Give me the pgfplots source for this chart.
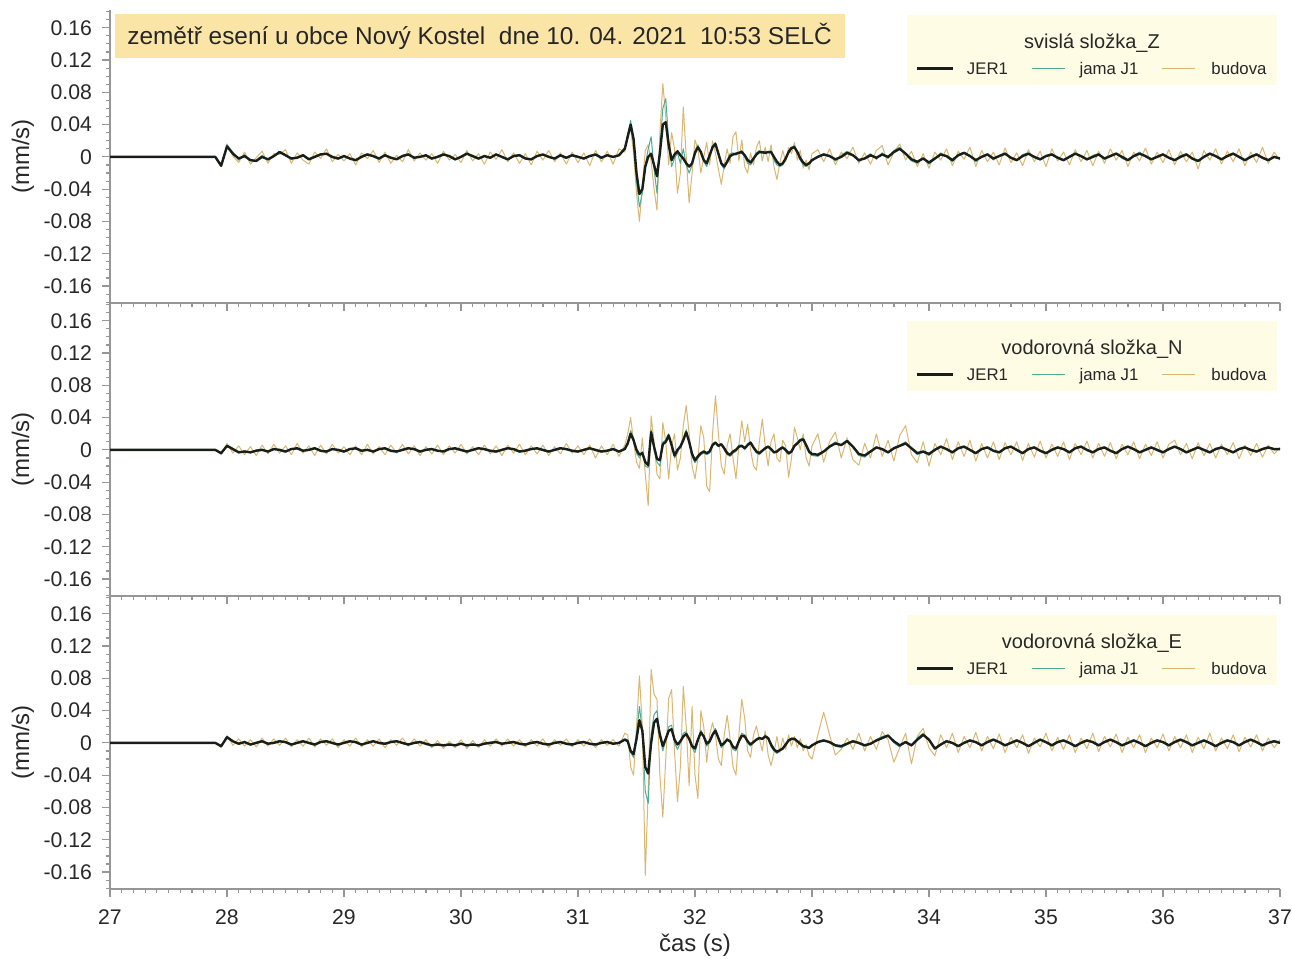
\documentclass[border=0pt]{standalone}
\usepackage{pgfplots}
\usepackage{pgfplotstable}
\pgfplotsset{compat=1.18}
\usepackage{fontspec}
\setmainfont{Liberation Sans}
\definecolor{budcol}{RGB}{218,182,115}
\definecolor{jamcol}{RGB}{80,170,150}
\definecolor{jercol}{RGB}{25,30,25}
\definecolor{axcol}{RGB}{150,150,150}
\definecolor{tickcol}{RGB}{40,40,40}
\definecolor{titlebg}{RGB}{251,229,166}
\definecolor{legbg}{RGB}{254,252,228}

\pgfplotstableread{
t j m b
27.00 0 0 0
27.90 0 0 0
27.95 -0.011 -0.012 -0.010
28.00 0.013 0.015 0.016
28.05 0.004 0.006 0.001
28.10 -0.002 -0.004 -0.007
28.15 0.001 0.003 0.006
28.20 -0.004 -0.005 -0.009
28.25 -0.005 -0.004 -0.001
28.30 0.000 0.002 0.007
28.35 -0.003 -0.004 -0.008
28.40 0.001 0.000 0.004
28.45 0.006 0.007 0.003
28.50 0.002 0.003 0.009
28.55 -0.002 -0.003 -0.008
28.60 -0.001 0.000 0.005
28.65 0.002 0.003 -0.004
28.70 -0.003 -0.002 -0.009
28.75 0.000 0.001 0.006
28.80 0.003 0.004 -0.002
28.85 0.004 0.003 0.010
28.90 0.000 -0.001 -0.006
28.95 -0.002 -0.003 0.003
29.00 0.001 0.002 -0.005
29.05 -0.002 -0.003 0.004
29.10 -0.004 -0.005 -0.010
29.15 0.000 0.001 0.005
29.20 0.003 0.004 -0.002
29.25 0.001 0.000 0.008
29.30 -0.002 -0.003 -0.007
29.35 0.002 0.003 0.006
29.40 -0.001 -0.002 -0.008
29.45 -0.003 -0.002 0.002
29.50 0.001 0.002 -0.006
29.55 0.003 0.004 0.009
29.60 -0.001 -0.002 -0.005
29.65 0.000 0.001 0.005
29.70 0.002 0.001 -0.004
29.75 -0.002 -0.003 0.004
29.80 0.000 0.001 -0.008
29.85 0.003 0.004 0.007
29.90 0.001 0.000 -0.004
29.95 -0.003 -0.004 0.003
30.00 0.000 0.001 -0.007
30.05 0.004 0.005 0.008
30.10 0.001 0.000 -0.005
30.15 -0.002 -0.003 0.004
30.20 0.001 0.002 -0.009
30.25 -0.001 -0.002 0.006
30.30 0.003 0.004 -0.003
30.35 0.000 -0.001 0.009
30.40 -0.003 -0.004 -0.006
30.45 0.001 0.002 0.005
30.50 0.002 0.003 -0.008
30.55 -0.002 -0.001 0.004
30.60 -0.003 -0.004 -0.010
30.65 0.001 0.002 0.007
30.70 0.003 0.002 -0.004
30.75 0.000 0.001 0.008
30.80 -0.002 -0.003 -0.006
30.85 0.002 0.001 0.005
30.90 -0.001 -0.002 -0.009
30.95 0.002 0.003 0.006
31.00 0.000 0.001 -0.007
31.05 -0.002 -0.003 0.005
31.10 0.001 0.002 -0.011
31.15 0.003 0.002 0.008
31.20 -0.001 -0.002 -0.006
31.25 0.002 0.003 0.007
31.30 0.000 -0.001 -0.009
31.35 0.002 0.003 0.010
31.40 0.010 0.012 0.006
31.425 0.025 0.028 0.030
31.450 0.040 0.045 0.035
31.475 0.022 0.020 0.005
31.500 -0.020 -0.030 -0.045
31.525 -0.046 -0.062 -0.080
31.550 -0.040 -0.045 -0.035
31.575 -0.012 -0.010 0.008
31.600 0.000 0.010 0.015
31.625 0.004 0.025 -0.005
31.650 -0.010 -0.015 -0.040
31.675 -0.024 -0.045 -0.066
31.700 0.005 0.010 0.030
31.725 0.040 0.060 0.091
31.750 0.043 0.072 0.050
31.775 0.015 0.020 -0.010
31.800 -0.004 -0.012 0.030
31.825 0.003 -0.002 0.010
31.850 0.007 0.005 -0.045
31.875 0.002 -0.008 -0.020
31.900 -0.002 0.010 0.062
31.925 -0.008 -0.010 0.000
31.950 -0.012 -0.020 -0.057
31.975 -0.008 -0.010 -0.020
32.000 0.005 0.008 0.021
32.025 0.012 0.015 0.010
32.050 0.006 0.004 -0.020
32.075 -0.004 -0.006 0.000
32.100 -0.008 -0.012 0.018
32.125 0.002 0.000 -0.010
32.150 0.012 0.014 0.020
32.175 0.016 0.018 0.005
32.200 0.004 0.002 -0.015
32.225 -0.008 -0.010 -0.034
32.250 -0.012 -0.015 -0.010
32.275 -0.006 -0.004 0.010
32.300 0.001 0.004 -0.008
32.325 0.003 0.005 0.025
32.350 0.004 0.002 0.031
32.375 0.005 0.006 -0.005
32.400 0.006 0.008 0.021
32.425 0.002 0.000 -0.012
32.450 -0.004 -0.008 -0.020
32.475 -0.007 -0.010 0.005
32.500 -0.002 -0.004 -0.010
32.525 0.003 0.005 0.012
32.550 0.006 0.008 0.020
32.575 0.006 0.004 -0.005
32.600 0.005 0.007 0.012
32.625 0.006 0.005 -0.006
32.650 0.006 0.008 0.015
32.675 0.000 -0.004 -0.012
32.700 -0.006 -0.010 -0.028
32.725 -0.010 -0.012 -0.008
32.750 -0.008 -0.010 0.008
32.775 -0.002 -0.003 -0.006
32.800 0.006 0.008 0.012
32.825 0.011 0.012 0.004
32.850 0.012 0.014 0.018
32.875 0.006 0.005 -0.004
32.900 -0.002 -0.004 0.008
32.925 -0.007 -0.010 -0.014
32.950 -0.010 -0.012 -0.004
32.975 -0.008 -0.009 -0.016
33.000 -0.004 -0.005 0.004
33.05 0.000 0.001 0.009
33.10 0.003 0.004 -0.006
33.15 0.001 0.002 0.010
33.20 -0.003 -0.005 -0.010
33.25 0.000 0.002 0.006
33.30 0.005 0.007 -0.002
33.35 0.002 0.003 0.012
33.40 -0.004 -0.006 -0.008
33.45 -0.002 -0.001 0.005
33.50 0.002 0.004 -0.009
33.55 -0.001 -0.003 0.008
33.60 0.003 0.005 0.014
33.65 0.000 -0.002 -0.010
33.70 0.006 0.008 0.006
33.75 0.010 0.012 0.016
33.80 0.004 0.003 -0.004
33.85 -0.003 -0.005 0.007
33.90 -0.006 -0.008 -0.012
33.95 -0.002 -0.001 0.004
34.00 -0.007 -0.009 -0.014
34.05 -0.002 -0.003 0.006
34.10 0.003 0.005 -0.004
34.15 0.001 0.000 0.010
34.20 -0.004 -0.006 -0.011
34.25 0.002 0.003 0.007
34.30 0.005 0.006 -0.003
34.35 0.001 0.002 0.012
34.40 -0.004 -0.006 -0.012
34.45 0.000 0.001 0.008
34.50 0.003 0.004 -0.006
34.55 -0.002 -0.004 0.006
34.60 0.001 0.002 -0.010
34.65 0.004 0.005 0.011
34.70 -0.001 -0.002 -0.007
34.75 -0.004 -0.005 0.005
34.80 0.001 0.003 -0.011
34.85 0.004 0.005 0.009
34.90 0.000 -0.001 -0.006
34.95 -0.003 -0.004 0.007
35.00 0.001 0.002 -0.012
35.05 0.003 0.004 0.010
35.10 -0.001 -0.002 -0.005
35.15 -0.004 -0.005 0.006
35.20 0.000 0.001 -0.010
35.25 0.004 0.005 0.009
35.30 0.001 0.000 -0.006
35.35 -0.003 -0.004 0.008
35.40 0.000 0.002 -0.011
35.45 0.003 0.004 0.007
35.50 -0.002 -0.003 -0.008
35.55 0.001 0.002 0.010
35.60 0.004 0.005 -0.004
35.65 0.000 -0.002 0.008
35.70 -0.004 -0.005 -0.012
35.75 0.001 0.002 0.006
35.80 0.004 0.006 -0.005
35.85 0.001 0.000 0.011
35.90 -0.003 -0.004 -0.009
35.95 0.000 0.001 0.006
36.00 0.003 0.004 -0.007
36.05 -0.001 -0.002 0.009
36.10 -0.004 -0.005 -0.010
36.15 0.000 0.002 0.007
36.20 0.003 0.004 -0.006
36.25 -0.002 -0.003 0.006
36.30 -0.005 -0.006 -0.015
36.35 0.000 0.001 0.008
36.40 0.004 0.005 -0.004
36.45 0.001 0.000 0.010
36.50 -0.003 -0.004 -0.009
36.55 0.001 0.002 0.007
36.60 0.004 0.005 -0.006
36.65 0.000 -0.001 0.010
36.70 -0.004 -0.005 -0.011
36.75 0.000 0.001 0.006
36.80 0.003 0.004 -0.007
36.85 -0.001 -0.002 0.012
36.90 -0.004 -0.005 -0.008
36.95 0.000 0.001 0.006
37.00 -0.002 -0.003 -0.004
}\tabZ

\pgfplotstableread{
t j m b
27.00 0 0 0
27.90 0 0 0
27.95 -0.004 -0.005 -0.006
28.00 0.005 0.006 0.008
28.05 0.001 0.002 -0.004
28.10 -0.003 -0.004 0.005
28.15 -0.002 -0.001 -0.006
28.20 -0.003 -0.004 0.004
28.25 -0.001 0.000 -0.007
28.30 0.000 0.001 0.006
28.35 -0.002 -0.003 -0.005
28.40 0.001 0.002 0.007
28.45 0.000 -0.001 -0.004
28.50 -0.002 -0.003 0.005
28.55 0.001 0.002 -0.006
28.60 0.002 0.001 0.008
28.65 -0.001 -0.002 -0.004
28.70 0.000 0.001 0.005
28.75 0.002 0.003 -0.007
28.80 -0.001 -0.002 0.006
28.85 -0.002 -0.003 -0.005
28.90 0.001 0.002 0.007
28.95 0.000 -0.001 -0.004
29.00 -0.002 -0.003 0.004
29.05 0.001 0.002 -0.006
29.10 0.002 0.001 0.005
29.15 -0.001 -0.002 -0.006
29.20 0.000 0.001 0.007
29.25 -0.002 -0.003 -0.005
29.30 0.001 0.002 0.004
29.35 0.002 0.001 -0.006
29.40 -0.001 -0.002 0.006
29.45 -0.002 -0.003 -0.004
29.50 0.000 0.001 0.007
29.55 0.002 0.003 -0.005
29.60 0.001 0.000 0.005
29.65 -0.002 -0.003 -0.007
29.70 0.000 0.001 0.004
29.75 0.001 0.002 -0.005
29.80 -0.001 -0.002 0.006
29.85 -0.002 -0.001 -0.006
29.90 0.001 0.002 0.005
29.95 0.002 0.001 -0.004
30.00 0.000 -0.001 0.007
30.05 -0.002 -0.003 -0.005
30.10 0.000 0.001 0.004
30.15 0.002 0.003 -0.006
30.20 0.001 0.000 0.006
30.25 -0.001 -0.002 -0.005
30.30 -0.002 -0.003 0.005
30.35 0.000 0.001 -0.007
30.40 0.002 0.003 0.006
30.45 0.001 0.000 -0.004
30.50 -0.002 -0.003 0.007
30.55 -0.001 0.000 -0.006
30.60 0.001 0.002 0.005
30.65 0.002 0.001 -0.005
30.70 0.000 -0.001 0.006
30.75 -0.002 -0.003 -0.007
30.80 0.000 0.001 0.004
30.85 0.002 0.003 -0.005
30.90 0.001 0.000 0.008
30.95 -0.001 -0.002 -0.004
31.00 -0.002 -0.003 0.005
31.05 0.000 0.001 -0.006
31.10 0.002 0.003 0.006
31.15 0.000 -0.001 -0.010
31.20 -0.002 -0.003 0.005
31.25 -0.001 0.000 -0.006
31.30 0.001 0.002 0.007
31.35 -0.002 -0.003 -0.008
31.40 0.001 0.002 0.006
31.425 0.008 0.010 0.020
31.450 0.020 0.024 0.040
31.475 0.012 0.015 0.010
31.500 0.000 -0.004 -0.015
31.525 -0.006 -0.010 -0.023
31.550 -0.004 -0.002 0.015
31.575 -0.015 -0.020 -0.030
31.600 -0.019 -0.022 -0.069
31.625 0.022 0.025 0.042
31.650 0.004 0.000 0.010
31.675 -0.011 -0.015 -0.030
31.700 -0.013 -0.020 -0.036
31.725 0.007 0.010 0.034
31.750 0.010 0.012 0.010
31.775 0.018 0.020 -0.036
31.800 0.006 0.004 0.005
31.825 -0.007 -0.010 0.020
31.850 0.000 -0.004 -0.025
31.875 0.004 0.006 -0.010
31.900 0.012 0.014 0.030
31.925 0.022 0.025 0.055
31.950 0.010 0.008 0.020
31.975 -0.005 -0.008 -0.020
32.000 -0.013 -0.016 -0.036
32.025 -0.008 -0.010 -0.010
32.050 -0.004 -0.006 0.030
32.075 -0.002 -0.004 0.015
32.100 -0.004 -0.006 -0.045
32.125 -0.002 -0.004 -0.052
32.150 0.006 0.008 0.020
32.175 0.009 0.010 0.067
32.200 0.005 0.004 0.020
32.225 0.007 0.008 -0.020
32.250 0.002 0.000 -0.030
32.275 -0.004 -0.006 0.005
32.300 -0.006 -0.008 0.020
32.325 -0.002 -0.004 -0.010
32.350 0.000 -0.002 -0.036
32.375 0.004 0.006 0.005
32.400 0.005 0.006 0.036
32.425 0.002 0.000 0.010
32.450 0.006 0.008 0.032
32.475 0.009 0.010 0.000
32.500 0.003 0.002 -0.020
32.525 -0.002 -0.004 -0.025
32.550 -0.004 -0.006 0.010
32.575 -0.001 -0.002 0.038
32.600 0.002 0.003 0.005
32.625 0.004 0.005 -0.020
32.650 0.001 0.000 0.010
32.675 -0.003 -0.004 0.020
32.700 -0.002 -0.003 -0.010
32.725 0.001 0.002 -0.015
32.750 0.003 0.004 0.012
32.775 0.000 -0.002 0.005
32.800 -0.004 -0.006 -0.034
32.825 -0.002 -0.003 -0.010
32.850 0.005 0.006 0.028
32.875 0.008 0.010 0.015
32.900 0.012 0.013 0.000
32.925 0.013 0.015 0.020
32.950 0.006 0.004 -0.010
32.975 -0.002 -0.004 -0.020
33.000 -0.005 -0.007 0.005
33.05 -0.006 -0.008 0.020
33.10 -0.002 -0.003 -0.015
33.15 0.004 0.005 0.010
33.20 0.008 0.010 0.022
33.25 0.006 0.006 -0.010
33.30 0.011 0.012 0.015
33.35 0.004 0.003 -0.012
33.40 -0.005 -0.007 -0.019
33.45 -0.007 -0.009 0.008
33.50 -0.002 -0.003 -0.010
33.55 0.003 0.004 0.020
33.60 0.001 0.000 -0.008
33.65 -0.003 -0.004 0.012
33.70 0.002 0.003 -0.014
33.75 0.005 0.006 0.018
33.80 0.008 0.010 0.030
33.85 0.002 0.001 -0.006
33.90 -0.004 -0.006 -0.016
33.95 -0.002 -0.003 0.010
34.00 -0.005 -0.007 -0.020
34.05 0.000 0.001 0.008
34.10 0.004 0.005 -0.006
34.15 0.001 0.000 0.014
34.20 -0.003 -0.004 -0.012
34.25 0.002 0.003 0.010
34.30 0.004 0.005 -0.008
34.35 0.000 -0.001 0.012
34.40 -0.004 -0.005 -0.014
34.45 0.001 0.002 0.008
34.50 0.003 0.004 -0.010
34.55 -0.001 -0.002 0.010
34.60 -0.003 -0.004 -0.012
34.65 0.002 0.003 0.009
34.70 0.004 0.005 -0.006
34.75 0.000 -0.001 0.010
34.80 -0.004 -0.005 -0.013
34.85 0.001 0.002 0.008
34.90 0.003 0.004 -0.009
34.95 -0.001 -0.002 0.011
35.00 -0.004 -0.005 -0.010
35.05 0.000 0.001 0.007
35.10 0.003 0.004 -0.008
35.15 0.001 0.000 0.010
35.20 -0.003 -0.004 -0.012
35.25 0.002 0.003 0.008
35.30 0.004 0.005 -0.006
35.35 0.000 -0.001 0.011
35.40 -0.003 -0.004 -0.010
35.45 0.001 0.002 0.008
35.50 0.003 0.004 -0.008
35.55 -0.001 -0.002 0.009
35.60 -0.004 -0.005 -0.011
35.65 0.001 0.002 0.007
35.70 0.004 0.005 -0.006
35.75 0.001 0.000 0.010
35.80 -0.003 -0.004 -0.011
35.85 0.000 0.001 0.007
35.90 0.003 0.004 -0.007
35.95 0.000 -0.001 0.010
36.00 -0.003 -0.004 -0.010
36.05 0.001 0.002 0.007
36.10 0.004 0.005 0.012
36.15 0.001 0.000 -0.006
36.20 -0.003 -0.004 0.008
36.25 0.000 0.001 -0.011
36.30 0.003 0.004 0.009
36.35 0.000 -0.001 -0.007
36.40 -0.003 -0.004 0.008
36.45 0.001 0.002 -0.010
36.50 0.003 0.004 0.007
36.55 0.000 -0.001 -0.006
36.60 -0.003 -0.004 0.009
36.65 0.001 0.002 -0.011
36.70 0.003 0.004 0.006
36.75 0.000 -0.001 -0.007
36.80 -0.002 -0.003 0.008
36.85 0.001 0.002 -0.009
36.90 0.003 0.004 0.006
36.95 0.001 0.000 -0.005
37.00 0.001 0.002 0.003
}\tabN

\pgfplotstableread{
t j m b
27.00 0 0 0
27.90 0 0 0
27.95 -0.004 -0.005 -0.006
28.00 0.007 0.008 0.009
28.05 0.002 0.003 -0.003
28.10 -0.001 -0.002 0.005
28.15 0.001 0.002 -0.004
28.20 -0.002 -0.003 0.004
28.25 0.000 0.001 -0.005
28.30 0.002 0.003 0.006
28.35 -0.001 -0.002 -0.004
28.40 0.000 0.001 0.005
28.45 0.002 0.003 -0.003
28.50 0.001 0.000 0.006
28.55 -0.002 -0.003 -0.005
28.60 0.000 0.001 0.004
28.65 0.002 0.003 -0.004
28.70 0.000 -0.001 0.006
28.75 -0.002 -0.003 -0.005
28.80 0.001 0.002 0.005
28.85 0.002 0.003 -0.003
28.90 0.000 -0.001 0.005
28.95 -0.002 -0.003 -0.006
29.00 0.000 0.001 0.004
29.05 0.002 0.003 -0.004
29.10 0.001 0.000 0.006
29.15 -0.002 -0.003 -0.005
29.20 0.000 0.001 0.004
29.25 0.002 0.003 -0.004
29.30 0.000 -0.001 0.005
29.35 -0.001 -0.002 -0.006
29.40 0.001 0.002 0.004
29.45 0.002 0.003 -0.003
29.50 0.000 -0.001 0.006
29.55 -0.002 -0.003 -0.004
29.60 0.000 0.001 0.005
29.65 0.001 0.002 -0.004
29.70 -0.001 -0.002 0.004
29.75 -0.003 -0.004 -0.006
29.80 -0.002 -0.001 0.003
29.85 -0.003 -0.004 -0.007
29.90 -0.002 -0.001 0.002
29.95 -0.003 -0.004 -0.006
30.00 -0.001 0.000 0.004
30.05 -0.003 -0.004 -0.007
30.10 -0.002 -0.001 0.003
30.15 -0.003 -0.004 -0.006
30.20 -0.001 0.000 0.004
30.25 0.000 0.001 -0.004
30.30 0.001 0.002 0.005
30.35 -0.001 -0.002 -0.004
30.40 0.000 0.001 0.005
30.45 0.001 0.002 -0.004
30.50 -0.001 -0.002 0.004
30.55 -0.002 -0.003 -0.005
30.60 0.000 0.001 0.004
30.65 0.001 0.002 -0.004
30.70 -0.001 -0.002 0.005
30.75 -0.002 -0.003 -0.006
30.80 0.000 0.001 0.004
30.85 0.001 0.002 -0.003
30.90 -0.001 -0.002 0.005
30.95 -0.002 -0.003 -0.005
31.00 0.000 0.001 0.004
31.05 0.001 0.002 -0.004
31.10 -0.001 -0.002 0.005
31.15 -0.002 -0.003 -0.006
31.20 0.000 0.001 0.004
31.25 0.001 0.002 -0.003
31.30 -0.001 -0.002 0.004
31.35 0.000 0.001 -0.004
31.40 0.004 0.005 0.012
31.425 0.002 0.004 0.010
31.450 -0.010 -0.012 -0.030
31.475 -0.014 -0.018 -0.040
31.500 0.005 0.010 0.020
31.525 0.028 0.045 0.083
31.550 0.015 0.015 0.020
31.575 -0.030 -0.060 -0.164
31.600 -0.038 -0.075 -0.060
31.625 0.000 0.010 0.091
31.650 0.025 0.035 0.060
31.675 0.030 0.040 0.054
31.700 0.010 0.010 -0.040
31.725 -0.004 -0.010 -0.092
31.750 0.005 0.004 -0.020
31.775 0.015 0.020 0.055
31.800 0.017 0.022 0.066
31.825 0.004 0.000 -0.010
31.850 -0.002 -0.008 -0.073
31.875 0.002 0.000 -0.030
31.900 0.008 0.012 0.070
31.925 0.011 0.014 0.020
31.950 0.005 0.004 -0.053
31.975 -0.004 -0.006 0.045
32.000 -0.007 -0.012 -0.040
32.025 0.004 0.002 -0.069
32.050 0.013 0.016 0.040
32.075 0.008 0.008 0.020
32.100 -0.001 -0.004 -0.024
32.125 0.002 0.000 0.010
32.150 0.010 0.012 0.025
32.175 0.015 0.018 0.010
32.200 0.006 0.004 -0.020
32.225 -0.003 -0.006 -0.028
32.250 0.000 -0.002 0.010
32.275 0.004 0.006 0.034
32.300 0.002 0.001 0.005
32.325 -0.005 -0.008 -0.030
32.350 -0.007 -0.010 -0.040
32.375 0.002 0.004 0.010
32.400 0.009 0.012 0.054
32.425 0.008 0.010 0.030
32.450 0.002 0.000 -0.010
32.475 -0.002 -0.004 -0.018
32.500 0.001 0.002 0.010
32.525 0.004 0.005 0.021
32.550 0.006 0.007 0.005
32.575 0.005 0.004 -0.010
32.600 0.008 0.010 0.015
32.625 0.006 0.006 -0.015
32.650 -0.002 -0.005 -0.028
32.675 -0.008 -0.010 -0.012
32.700 -0.011 -0.013 0.008
32.725 -0.009 -0.010 -0.012
32.750 -0.007 -0.008 0.006
32.775 -0.002 -0.003 -0.008
32.800 0.003 0.004 0.010
32.825 0.005 0.006 -0.004
32.850 0.005 0.006 0.008
32.875 0.002 0.001 -0.006
32.900 -0.001 -0.002 0.005
32.925 -0.004 -0.006 -0.010
32.950 -0.005 -0.006 -0.002
32.975 -0.006 -0.007 -0.016
33.000 -0.003 -0.004 -0.020
33.05 0.001 0.002 0.010
33.10 0.003 0.004 0.038
33.15 0.001 0.000 0.010
33.20 -0.003 -0.004 -0.015
33.25 -0.004 -0.006 -0.008
33.30 -0.001 -0.002 0.006
33.35 0.002 0.003 -0.008
33.40 0.000 -0.001 0.012
33.45 -0.003 -0.004 -0.010
33.50 -0.001 -0.002 0.008
33.55 0.003 0.004 -0.008
33.60 0.006 0.008 0.014
33.65 0.009 0.010 0.004
33.70 0.002 0.000 -0.024
33.75 -0.003 -0.005 -0.006
33.80 0.001 0.002 0.012
33.85 -0.003 -0.004 -0.026
33.90 0.004 0.006 0.008
33.95 0.010 0.012 0.018
34.00 0.004 0.003 -0.006
34.05 -0.007 -0.008 -0.016
34.10 -0.002 -0.003 0.010
34.15 0.002 0.003 -0.006
34.20 0.000 -0.001 0.012
34.25 -0.004 -0.005 -0.012
34.30 0.000 0.001 0.008
34.35 0.003 0.004 -0.006
34.40 0.001 0.000 0.013
34.45 -0.003 -0.004 -0.010
34.50 0.001 0.002 0.008
34.55 0.004 0.005 -0.007
34.60 0.001 0.000 0.011
34.65 -0.003 -0.004 -0.012
34.70 0.000 0.001 0.007
34.75 0.003 0.004 -0.006
34.80 0.000 -0.001 0.010
34.85 -0.004 -0.005 -0.013
34.90 0.000 0.001 0.006
34.95 0.004 0.005 -0.005
35.00 0.001 0.000 0.012
35.05 -0.003 -0.004 -0.010
35.10 0.001 0.002 0.007
35.15 0.003 0.004 -0.008
35.20 0.000 -0.001 0.010
35.25 -0.004 -0.005 -0.012
35.30 0.000 0.001 0.006
35.35 0.003 0.004 -0.007
35.40 0.001 0.000 0.012
35.45 -0.003 -0.004 -0.011
35.50 0.001 0.002 0.008
35.55 0.004 0.005 -0.005
35.60 0.001 0.000 0.011
35.65 -0.003 -0.004 -0.012
35.70 0.000 0.001 0.007
35.75 0.003 0.004 -0.006
35.80 0.000 -0.001 0.010
35.85 -0.004 -0.005 -0.012
35.90 0.000 0.001 0.006
35.95 0.003 0.004 -0.006
36.00 0.001 0.000 0.011
36.05 -0.003 -0.004 -0.010
36.10 0.001 0.002 0.008
36.15 0.004 0.005 -0.006
36.20 0.001 0.000 0.010
36.25 -0.003 -0.004 -0.012
36.30 0.000 0.001 0.007
36.35 0.003 0.004 -0.007
36.40 0.000 -0.001 0.012
36.45 -0.004 -0.005 -0.010
36.50 0.000 0.001 0.006
36.55 0.003 0.004 -0.007
36.60 0.001 0.000 0.010
36.65 -0.003 -0.004 -0.011
36.70 0.001 0.002 0.007
36.75 0.004 0.005 -0.005
36.80 0.001 0.000 0.010
36.85 -0.003 -0.004 -0.010
36.90 0.000 0.001 0.006
36.95 0.002 0.003 -0.006
37.00 0.000 0.001 0.004
}\tabE

\tikzset{
  bud/.style={budcol, line width=0.5pt, line join=round},
  jam/.style={jamcol, line width=0.5pt, line join=round},
  jer/.style={jercol, line width=1.2pt, line join=round},
}

\pgfplotsset{
  panel/.style={
    scale only axis, width=585pt, height=146.5pt,
    anchor=south west,
    xmin=27, xmax=37, ymin=-0.181, ymax=0.182,
    axis lines*=left,
    axis line style={axcol, line width=0.6pt},
    tick style={axcol, line width=0.6pt},
    tick align=outside,
    major tick length=4pt, minor tick length=2pt,
    xtick={27,28,29,30,31,32,33,34,35,36,37},
    minor x tick num=9,
    ytick={-0.16,-0.12,-0.08,-0.04,0,0.04,0.08,0.12,0.16},
    yticklabels={-0.16,-0.12,-0.08,-0.04,0,0.04,0.08,0.12,0.16},
    minor ytick={-0.18,-0.17,...,0.18},
    every tick label/.append style={font=\fontsize{10.6}{12}\selectfont, text=tickcol},
    yticklabel style={xshift=-1.5pt},
    xticklabel style={yshift=-3pt},
    ylabel={(mm/s)},
    ylabel style={at={(axis description cs:-0.0744,0.5)}, anchor=center, font=\fontsize{12}{14}\selectfont, text=tickcol},
    clip=true,
  },
}

\newcommand{\legbox}[2]{%
  \begin{scope}[shift={(453.5pt,#1)}]
    \fill[legbg] (0,0) rectangle (185pt,-35pt);
    \node[font=\fontsize{10}{12}\selectfont, text=tickcol, anchor=base] at (92.5pt,-17pt) {#2};
    \draw[jer] (4.85pt,-26.7pt) -- (23.15pt,-26.7pt);
    \node[font=\fontsize{8.4}{10}\selectfont, text=tickcol, anchor=base] at (40.25pt,-29.7pt) {JER1};
    \draw[jam] (62.35pt,-26.7pt) -- (79pt,-26.7pt);
    \node[font=\fontsize{8.4}{10}\selectfont, text=tickcol, anchor=base] at (101pt,-29.7pt) {jama J1};
    \draw[bud] (127.35pt,-26.7pt) -- (144pt,-26.7pt);
    \node[font=\fontsize{8.4}{10}\selectfont, text=tickcol, anchor=base] at (166pt,-29.7pt) {budova};
  \end{scope}%
}

\begin{document}
\begin{tikzpicture}
\useasboundingbox (0,0) rectangle (646pt,479.5pt);

\begin{axis}[panel, at={(55pt,328pt)}, xticklabels={}]
\addplot[bud] table[x=t,y=b]{\tabZ};
\addplot[jam] table[x=t,y=m]{\tabZ};
\addplot[jer] table[x=t,y=j]{\tabZ};
\end{axis}

\begin{axis}[panel, at={(55pt,181.5pt)}, xticklabels={}]
\addplot[bud] table[x=t,y=b]{\tabN};
\addplot[jam] table[x=t,y=m]{\tabN};
\addplot[jer] table[x=t,y=j]{\tabN};
\end{axis}

\begin{axis}[panel, at={(55pt,35pt)},
  xticklabels={27,28,29,30,31,32,33,34,35,36,37},
  xlabel={čas (s)},
  xlabel style={at={(axis description cs:0.5,0)}, anchor=center, yshift=-28pt, font=\fontsize{12}{14}\selectfont, text=tickcol}]
\addplot[bud] table[x=t,y=b]{\tabE};
\addplot[jam] table[x=t,y=m]{\tabE};
\addplot[jer] table[x=t,y=j]{\tabE};
\end{axis}

% title box
\fill[titlebg] (57.5pt,472.5pt) rectangle (422.5pt,450.5pt);
\node[anchor=west, inner sep=0pt, font=\fontsize{12.2}{14}\selectfont, text=black!85] at (63.5pt,461.5pt)
  {zemětř esení u obce Nový Kostel\ \ dne 10. 04. 2021\ \ 10:53 SELČ};

\legbox{472pt}{svislá složka\_Z}
\legbox{319pt}{vodorovná složka\_N}
\legbox{172pt}{vodorovná složka\_E}
\end{tikzpicture}
\end{document}
